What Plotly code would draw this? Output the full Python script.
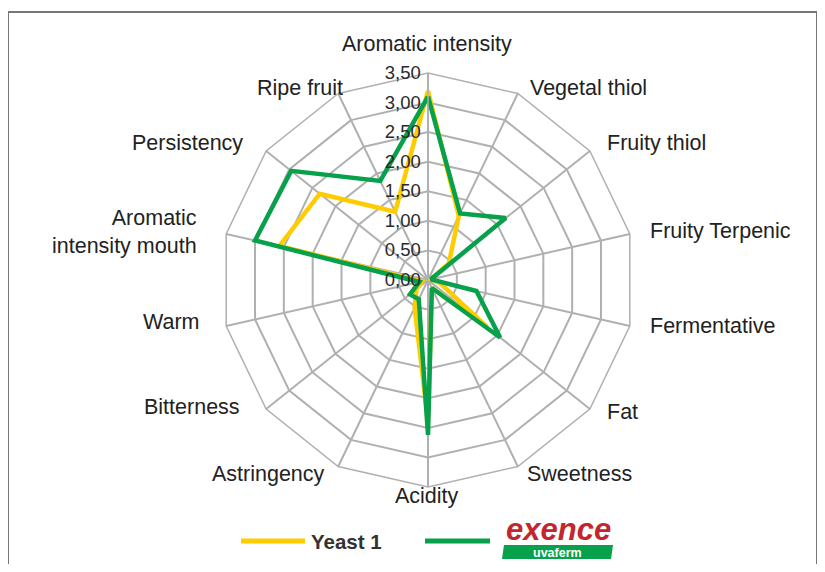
import plotly.graph_objects as go

categories = ["Aromatic intensity", "Vegetal thiol", "Fruity thiol", "Fruity Terpenic",
              "Fermentative", "Fat", "Sweetness", "Acidity", "Astringency", "Bitterness",
              "Warm", "Aromatic<br>intensity mouth", "Persistency", "Ripe fruit"]
yeast1 = [3.20, 1.20, 0.45, 0.05, 0.20, 1.28, 0.15, 2.40, 0.52, 0.25, 0.10, 2.58, 2.34, 1.28]
exence = [3.10, 1.25, 1.68, 0.05, 0.84, 1.56, 0.15, 2.62, 0.36, 0.39, 0.15, 3.00, 2.96, 1.86]
radial_ticks = [0, 0.5, 1.0, 1.5, 2.0, 2.5, 3.0, 3.5]

# category label placement (window pixels: anchor x, centre y, horizontal anchor)
label_layout = [(427, 44, "center"), (528, 88, "left"), (605, 143, "left"), (648, 231, "left"),
                (648, 326, "left"), (605, 412, "left"), (525, 474, "left"), (427, 496, "center"),
                (327, 474, "right"), (242, 407, "right"), (202, 322, "right"), (199, 232, "right"),
                (245, 143, "right"), (345, 88, "right")]

YELLOW = "#FFCC00"
GREEN = "#07A04B"

fig = go.Figure()
fig.add_trace(go.Scatterpolar(r=yeast1 + yeast1[:1], theta=categories + categories[:1],
                              mode="lines", line=dict(color=YELLOW, width=4.5),
                              name="Yeast 1", showlegend=False))
fig.add_trace(go.Scatterpolar(r=exence + exence[:1], theta=categories + categories[:1],
                              mode="lines", line=dict(color=GREEN, width=4.5),
                              name="exence", showlegend=False))

# page body has an 8px margin: work in window coordinates and shift
OX, OY = 8, 8
W, H = 809, 556
def px(x):
    return (x - OX) / W
def py(y):
    return 1 - (y - OY) / H

cx, cy, R = 428, 280, 207
fig.update_layout(
    width=W, height=H, margin=dict(l=0, r=0, t=0, b=0),
    paper_bgcolor="white", plot_bgcolor="white",
    separators=",.",
    font=dict(family="Liberation Sans, Arial, sans-serif", color="#222222", size=21),
    polar=dict(
        domain=dict(x=[px(cx - R), px(cx + R)], y=[py(cy + R), py(cy - R)]),
        gridshape="linear",
        bgcolor="white",
        angularaxis=dict(rotation=90, direction="clockwise", type="category",
                         showline=True, linecolor="#b0b0b0", linewidth=1.5,
                         gridcolor="#b0b0b0", gridwidth=1.5, ticks="",
                         showticklabels=False),
        radialaxis=dict(range=[0, 3.5], tickvals=radial_ticks, tickformat=".2f",
                        angle=90, tickangle=90, side="counterclockwise",
                        showline=True, linecolor="#b0b0b0", linewidth=1.5,
                        gridcolor="#b0b0b0", gridwidth=1.5, ticks="",
                        tickfont=dict(size=18.5, color="#2a2a2a")),
    ),
)

for name, (lx, lyy, anchor) in zip(categories, label_layout):
    fig.add_annotation(xref="paper", yref="paper", x=px(lx), y=py(lyy), text=name,
                       showarrow=False, xanchor=anchor, yanchor="middle", align=anchor,
                       font=dict(size=21.5, color="#222222"))

# frame
fig.add_shape(type="rect", xref="paper", yref="paper", x0=px(8), x1=px(817),
              y0=py(575), y1=py(12), line=dict(color="#777777", width=2))

# custom legend
ly = py(541)
fig.add_shape(type="line", xref="paper", yref="paper", x0=px(241), x1=px(305), y0=ly, y1=ly,
              line=dict(color=YELLOW, width=5))
fig.add_annotation(xref="paper", yref="paper", x=px(309), y=ly, text="<b>Yeast 1</b>",
                   showarrow=False, xanchor="left", yanchor="middle",
                   font=dict(size=20.5, color="#333333"))
fig.add_shape(type="line", xref="paper", yref="paper", x0=px(425), x1=px(490), y0=ly, y1=ly,
              line=dict(color=GREEN, width=5))
fig.add_shape(type="path", xref="paper", yref="paper",
              path=f"M {px(504)},{py(545)} L {px(613)},{py(545)} L {px(611)},{py(559)} L {px(502)},{py(559)} Z",
              fillcolor=GREEN, line=dict(width=0))
fig.add_annotation(xref="paper", yref="paper", x=px(557), y=py(552.5), text="<b>uvaferm</b>",
                   showarrow=False, xanchor="center", yanchor="middle",
                   font=dict(size=12.5, color="white"))
fig.add_annotation(xref="paper", yref="paper", x=px(558), y=py(529), text="<b><i>exence</i></b>",
                   showarrow=False, xanchor="center", yanchor="middle",
                   font=dict(size=31, color="#C1272D", family="Liberation Sans, Arial, sans-serif"))

fig.write_html("out.html")
